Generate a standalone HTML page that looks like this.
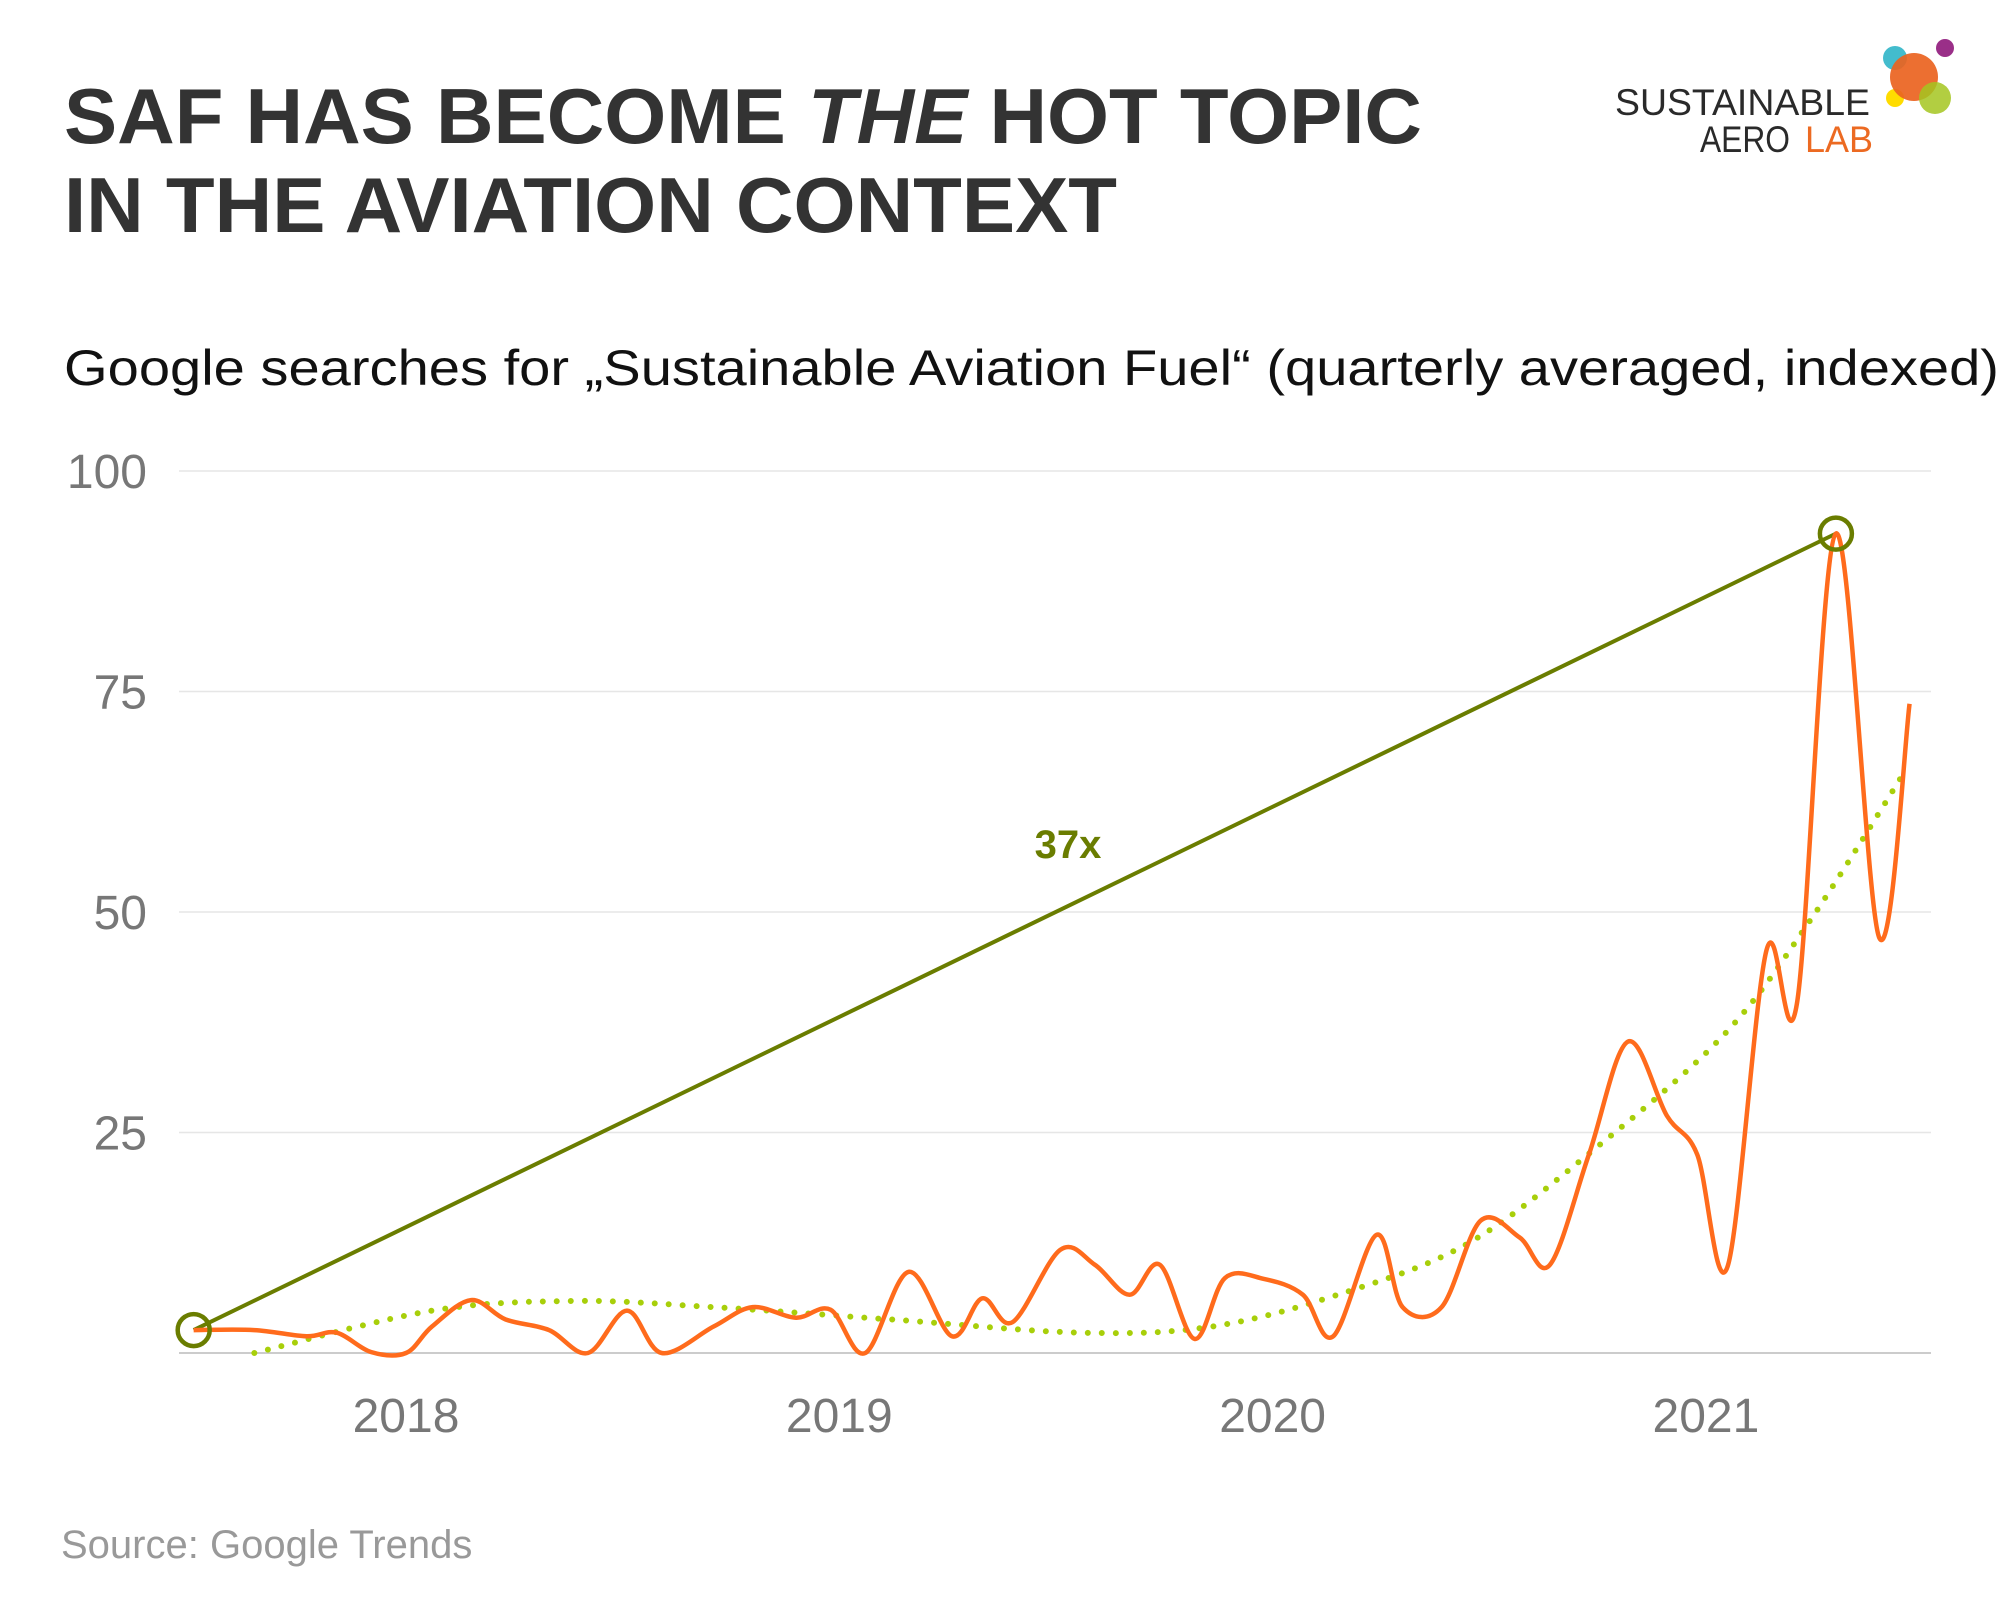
<!DOCTYPE html>
<html><head><meta charset="utf-8"><style>
html,body{margin:0;padding:0;background:#fff;}
svg{display:block;font-family:"Liberation Sans",Arial,sans-serif;}
</style></head><body>
<svg id="chart" width="2000" height="1600" viewBox="0 0 2000 1600">
<text x="64" y="143" font-size="78" font-weight="bold" fill="#333" textLength="1358" lengthAdjust="spacingAndGlyphs">SAF HAS BECOME <tspan font-style="italic">THE</tspan> HOT TOPIC</text>
<text x="64" y="232" font-size="78" font-weight="bold" fill="#333" textLength="1053" lengthAdjust="spacingAndGlyphs">IN THE AVIATION CONTEXT</text>
<text x="64" y="385" font-size="50" fill="#111" textLength="1935" lengthAdjust="spacingAndGlyphs">Google searches for „Sustainable Aviation Fuel“ (quarterly averaged, indexed)</text>
<g>
<text x="1615" y="115" font-size="37" fill="#2a2a2a" textLength="255" lengthAdjust="spacingAndGlyphs">SUSTAINABLE</text>
<text x="1700" y="152" font-size="37" fill="#2a2a2a" textLength="90" lengthAdjust="spacingAndGlyphs">AERO</text>
<text x="1805" y="152" font-size="37" fill="#ec6a22" textLength="68" lengthAdjust="spacingAndGlyphs">LAB</text>
<circle cx="1895" cy="58" r="12" fill="#2fb5c8" opacity="0.9"/>
<circle cx="1945" cy="48" r="9" fill="#9a2f88"/>
<circle cx="1895" cy="98" r="9" fill="#ffdc00"/>
<circle cx="1914" cy="77" r="24" fill="#ea6320" opacity="0.92"/>
<circle cx="1935" cy="98" r="16" fill="#a4c520" opacity="0.85"/>
</g>
<g id="grid"></g>
<g id="marks"></g>
<text x="61" y="1558" font-size="40" fill="#999">Source: Google Trends</text>
</svg>
<script>
const yTicks=[0,25,50,75,100];
const yTickLabels=["","25","50","75","100"];
const xTicks=[2018,2019,2020,2021];
const xTickLabels=["2018","2019","2020","2021"];
const dates=[2017.51,2017.65,2017.77,2017.84,2017.92,2018.00,2018.06,2018.15,2018.23,2018.33,2018.42,2018.51,2018.59,2018.71,2018.80,2018.90,2018.98,2019.06,2019.16,2019.26,2019.33,2019.40,2019.51,2019.59,2019.67,2019.74,2019.82,2019.89,2019.98,2020.07,2020.14,2020.24,2020.30,2020.39,2020.48,2020.57,2020.64,2020.73,2020.82,2020.91,2020.98,2021.05,2021.14,2021.21,2021.30,2021.40,2021.47];
const values=[2.6,2.6,1.9,2.3,0.1,0,3,6,3.8,2.6,0,4.8,0,3,5.2,4,4.9,0,9.2,1.9,6.2,3.5,11.7,10,6.6,10,1.6,8.5,8.4,6.6,1.9,13.4,5.2,5.2,15,13.1,10,22.5,35.3,26.9,22.5,9.8,45.7,39.6,92.9,47.1,73.6];
const trendDates=[2017.65,2018.06,2018.39,2018.71,2019.12,2019.56,2019.86,2020.15,2020.45,2020.74,2021.04,2021.24,2021.46];
const trendValues=[0,4.8,5.9,5.2,3.8,2.3,3,6.6,12.4,23,36,49,66];
const growthStart=[2017.51,2.6];
const growthEnd=[2021.30,92.9];
const growthLabel="37x";

const NS="http://www.w3.org/2000/svg";
const X=t=>406+(t-2018)*433.3;
const Y=v=>1353-v*8.82;
const grid=document.getElementById('grid'), marks=document.getElementById('marks');
function mk(tag,attrs,parent){const e=document.createElementNS(NS,tag);for(const k in attrs)e.setAttribute(k,attrs[k]);parent.appendChild(e);return e;}
yTicks.forEach((v,i)=>{
  const l=mk('line',{x1:179,x2:1931,y1:Y(v),y2:Y(v),stroke:v===0?'#ccc':'#e6e6e6','stroke-width':v===0?2:1.5},grid);
  
  
  if(yTickLabels[i]){const t=mk('text',{x:147,y:Y(v)+17,'font-size':48,fill:'#777','text-anchor':'end'},grid);t.textContent=yTickLabels[i];
  
  }
});
xTicks.forEach((v,i)=>{
  const t=mk('text',{x:X(v),y:1432,'font-size':48,fill:'#777','text-anchor':'middle'},grid);t.textContent=xTickLabels[i];
  
  
});
function smooth(xs,ys){
  const p=xs.map((x,i)=>[X(x),Y(ys[i])]);
  let d='M'+p[0][0]+','+p[0][1];
  for(let i=0;i<p.length-1;i++){
    const p0=p[Math.max(0,i-1)],p1=p[i],p2=p[i+1],p3=p[Math.min(p.length-1,i+2)];
    const c1=[p1[0]+(p2[0]-p0[0])/6,p1[1]+(p2[1]-p0[1])/6];
    const c2=[p2[0]-(p3[0]-p1[0])/6,p2[1]-(p3[1]-p1[1])/6];
    d+=' C'+c1+' '+c2+' '+p2;
  }
  return d;
}
const tr=mk('path',{d:smooth(trendDates,trendValues),fill:'none',stroke:'#a8cf0a','stroke-width':6,'stroke-linecap':'round','stroke-dasharray':'0 14'},marks);


const gl=mk('line',{x1:X(growthStart[0]),y1:Y(growthStart[1]),x2:X(growthEnd[0]),y2:Y(growthEnd[1]),stroke:'#6a7d00','stroke-width':4},marks);


const ln=mk('path',{d:smooth(dates,values),fill:'none',stroke:'#ff6b1c','stroke-width':4.5,'stroke-linejoin':'round'},marks);


[growthStart,growthEnd].forEach((p,i)=>{
  const c=mk('circle',{cx:X(p[0]),cy:Y(p[1]),r:16,fill:'none',stroke:'#6a7d00','stroke-width':4.5},marks);
  
  
});
const gt=mk('text',{x:1068,y:858,'font-size':40,'font-weight':'bold',fill:'#6a7d00','text-anchor':'middle'},marks);
gt.textContent=growthLabel;


</script>
</body></html>
